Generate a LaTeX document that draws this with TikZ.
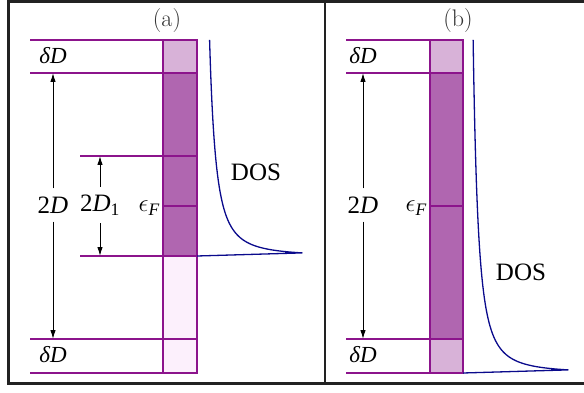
\RequirePackage{fix-cm}
\documentclass[tikz,border=0pt]{standalone}
\usepackage{amsmath}
\usepackage{fontspec}
\newfontfamily\tmfont{Liberation Serif}
\usetikzlibrary{arrows.meta}
\definecolor{bandline}{RGB}{140,20,140}
\definecolor{banddark}{RGB}{176,102,176}
\definecolor{bandlight}{RGB}{216,178,216}
\definecolor{bandpale}{RGB}{252,240,252}
\definecolor{dosblue}{RGB}{10,10,140}
\definecolor{framegray}{RGB}{34,34,34}

\begin{document}
\begin{tikzpicture}[
    x=1pt, y=-1pt,
    frame/.style={line width=2.6pt, framegray},
    lvl/.style={line width=1.1pt, bandline},
    Dbox/.style={fill=banddark, draw=bandline, line width=1.1pt},
    Lbox/.style={fill=bandlight, draw=bandline, line width=1.1pt},
    Pbox/.style={fill=bandpale, draw=bandline, line width=1.1pt},
    dos/.style={line width=1.3pt, dosblue, line join=round},
    gap/.style={-{Latex[length=9pt,width=5.5pt]}, line width=1pt, shorten <=7pt},
    lbl/.style={font=\tmfont\fontsize{25}{28}\selectfont, inner sep=1pt},
    dlbl/.style={font=\tmfont\fontsize{23}{26}\selectfont, inner sep=1pt},
    ttl/.style={font=\fontsize{24}{28}\selectfont, black!80},
]
\useasboundingbox (0,0) rectangle (584,393);
% frame, open on the right
\draw[frame] (584,1.3) -- (8.5,1.3) -- (8.5,383.7) -- (584,383.7);
\draw[frame] (325,1.3) -- (325,383.7);

% ---- panel (a) ----
\node[ttl] (atitle) at (167,21) {(a)};
\draw[lvl] (30,40) -- (163,40);
\draw[lvl] (30,73) -- (163,73);
\draw[lvl] (80,156) -- (163,156);
\draw[lvl] (80,256) -- (163,256);
\draw[lvl] (30,339) -- (163,339);
\draw[lvl] (30,373) -- (163,373);
\draw[Lbox] (163,40) rectangle (197,73);
\draw[Dbox] (163,73) rectangle (197,256);
\draw[Pbox] (163,256) rectangle (197,373);
\draw[lvl] (163,156) -- (197,156);
\draw[lvl] (163,206) -- (197,206);
\draw[lvl] (163,339) -- (197,339);
\node[dlbl] (adDtop) at (53,56) {\textit{δD}};
\node[dlbl] (adDbot) at (53,355) {\textit{δD}};
\node[lbl] (aD) at (53,205) {2\textit{D}};
\node[lbl] (aDone) at (100,205) {2\textit{D}\textsubscript{1}};
\node[lbl, anchor=east] (aEF) at (161,208) {$\epsilon_{\textit{F}}$};
\node[lbl] (aDOS) at (256,172) {DOS};
\coordinate (aDup) at (53,73);
\coordinate (aDdn) at (53,339);
\coordinate (aDoneup) at (100,156);
\coordinate (aDonedn) at (100,256);
\draw[gap] (aD.north) -- (aDup);
\draw[gap] (aD.south) -- (aDdn);
\draw[gap] (aDone.north) -- (aDoneup);
\draw[gap] (aDone.south) -- (aDonedn);
\draw[dos] plot[smooth, domain=14.7:1.76, samples=90, variable=\u]
    ({197+185/\u}, {256-\u*\u}) -- (197,256);

% ---- panel (b) ----
\node[ttl] (btitle) at (458,21) {(b)};
\draw[lvl] (346,40) -- (430,40);
\draw[lvl] (346,73) -- (430,73);
\draw[lvl] (346,339) -- (430,339);
\draw[lvl] (346,373) -- (430,373);
\draw[Lbox] (430,40) rectangle (463,73);
\draw[Dbox] (430,73) rectangle (463,339);
\draw[Lbox] (430,339) rectangle (463,373);
\draw[lvl] (430,206) -- (463,206);
\node[dlbl] (bdDtop) at (363,56) {\textit{δD}};
\node[dlbl] (bdDbot) at (363,355) {\textit{δD}};
\node[lbl] (bD) at (363,205) {2\textit{D}};
\node[lbl, anchor=east] (bEF) at (428,208) {$\epsilon_{\textit{F}}$};
\node[lbl] (bDOS) at (521,272) {DOS};
\coordinate (bDup) at (363,73);
\coordinate (bDdn) at (363,339);
\draw[gap] (bD.north) -- (bDup);
\draw[gap] (bD.south) -- (bDdn);
\draw[dos] plot[smooth, domain=18.25:1.76, samples=110, variable=\u]
    ({463+185/\u}, {373-\u*\u}) -- (463,373);
\end{tikzpicture}
\end{document}
